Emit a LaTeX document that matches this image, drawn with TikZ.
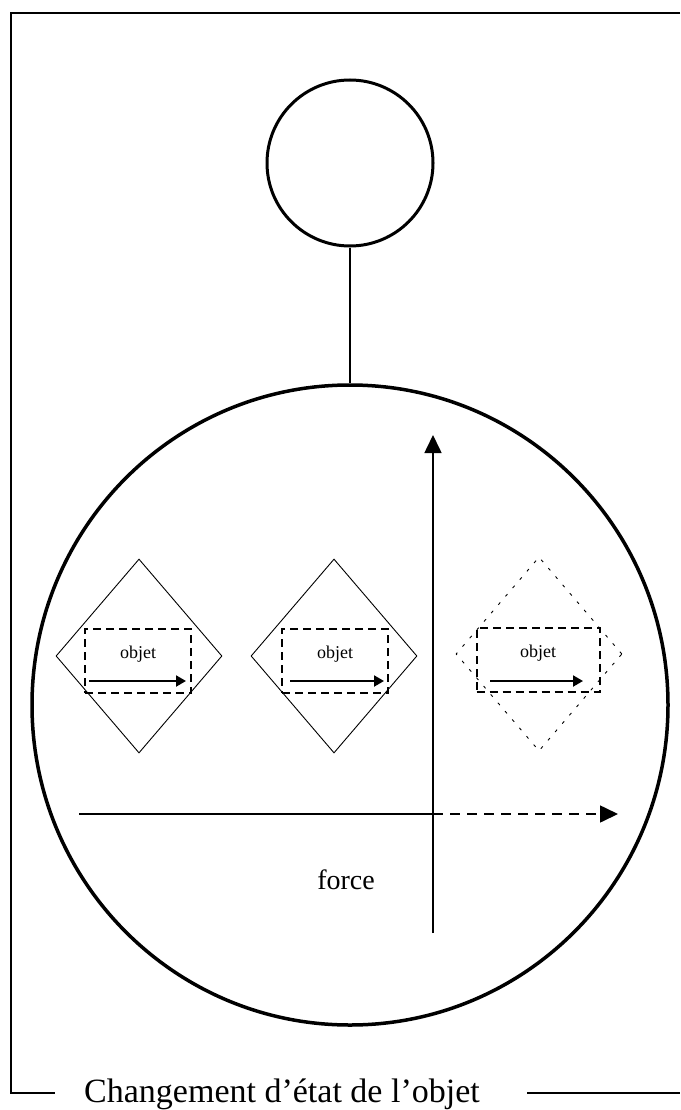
\documentclass[tikz,border=0pt]{standalone}
\usepackage{fontspec}
\setmainfont{Liberation Serif}
\usetikzlibrary{arrows.meta, positioning, shapes.geometric}

\begin{document}
\begin{tikzpicture}[x=1pt, y=-1pt,
            frame/.style={line width=1.5pt},
            head/.style={circle, draw, line width=3pt, minimum size=166pt, inner sep=0pt},
            body/.style={ellipse, draw, line width=3.5pt, minimum width=636pt,
                         minimum height=640pt, inner sep=0pt},
            state/.style={diamond, draw, line width=0.9pt, minimum width=166pt,
                          minimum height=194pt, inner sep=0pt},
            ghost/.style={state, dash pattern=on 3pt off 8pt},
            boxstate/.style={rectangle, draw, line width=2pt, dash pattern=on 8pt off 5pt,
                             minimum width=106pt, minimum height=64pt, inner sep=0pt},
            lbl/.style={font=\fontsize{18}{20}\selectfont, inner sep=0pt},
            move/.style={-{Triangle[length=10pt, width=11pt]}, line width=2pt},
            axis/.style={line width=1.6pt},
            arr/.style={-{Triangle[length=18pt, width=17pt]}, line width=1.6pt}]
          \useasboundingbox (0,0) rectangle (680,1110);
          % cadre
          \coordinate (tr) at (680,13);
          \coordinate (tl) at (11,13);
          \coordinate (bl) at (11,1093);
          \coordinate (bm) at (55,1093);
          \coordinate (bn) at (527,1093);
          \coordinate (br) at (680,1093);
          \draw[frame] (tr) -- (tl) -- (bl) -- (bm);
          \draw[frame] (bn) -- (br);
          \node[anchor=base west, inner sep=0pt, font=\fontsize{34}{38}\selectfont]
            (title) at (84,1102) {Changement d’état de l’objet};
          % personnage
          \node[head] (h) at (350,163) {};
          \node[body] (b) at (350,705) {};
          \draw[line width=2.2pt] (h.south) -- (b.north);
          % etats
          \node[state] (d1) at (139,656) {};
          \node[state] (d2) at (334,656) {};
          \node[ghost] (d3) at (539,654) {};
          \node[boxstate] (s1) at (138,661) {};
          \node[boxstate] (s2) at (335,661) {};
          \node[boxstate, minimum width=123pt] (s3) at (538,660) {};
          \node[lbl] (t1) at (138,654) {objet};
          \node[lbl] (t2) at (335,654) {objet};
          \node[lbl] (t3) at (538,653) {objet};
          \coordinate (m1a) at (89,681);
          \coordinate (m1b) at (186,681);
          \coordinate (m2a) at (290,681);
          \coordinate (m2b) at (384,681);
          \coordinate (m3a) at (490,681);
          \coordinate (m3b) at (583,681);
          \draw[move] (m1a) -- (m1b);
          \draw[move] (m2a) -- (m2b);
          \draw[move] (m3a) -- (m3b);
          % axes
          \coordinate (o) at (433,814);
          \coordinate (xa) at (79,814);
          \coordinate (xb) at (618,814);
          \coordinate (ya) at (433,933);
          \coordinate (yb) at (433,435);
          \draw[axis] (xa) -- (o);
          \draw[arr, dash pattern=on 10pt off 7pt] (o) -- (xb);
          \draw[arr] (ya) -- (yb);
          \node[font=\fontsize{28}{30}\selectfont, inner sep=0pt] (f) at (346,880) {force};
        \end{tikzpicture}
\end{document}
